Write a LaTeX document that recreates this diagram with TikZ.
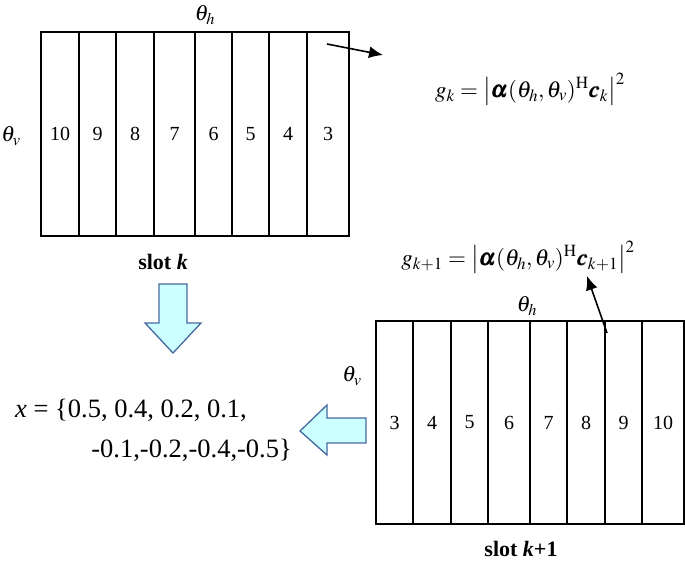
\RequirePackage{fix-cm}
\documentclass[tikz,border=0pt]{standalone}
\usepackage{mathptmx}
\usepackage{fontspec}
\setmainfont{Liberation Serif}
\usepackage{bm}
\usetikzlibrary{arrows.meta}
\definecolor{arrfill}{RGB}{204,255,255}
\definecolor{arrdraw}{RGB}{70,105,160}
\begin{document}
\begin{tikzpicture}[x=1pt,y=-1pt,
  cell/.style={draw,line width=1.3pt,inner sep=0pt,font=\fontsize{20}{24}\selectfont},
  lbl/.style={inner sep=0pt,font=\fontsize{22}{26}\selectfont},
  frm/.style={inner sep=0pt,font=\fontsize{23}{27}\selectfont},
  xtxt/.style={inner sep=0pt,font=\fontsize{26.5}{30}\selectfont},
  ptr/.style={line width=1.6pt,-{Latex[length=14pt,width=12pt]}},
  blockarrow/.style={fill=arrfill,draw=arrdraw,line width=1.3pt,line join=miter}]
\useasboundingbox (0,0) rectangle (685,562);
% slot k box
\foreach \l/\r/\t [count=\i] in {41/79/10,79/116/9,116/154/8,154/195/7,195/232/6,232/269/5,269/307/4,307/349/3}{
  \node[cell,minimum width={(\r-\l)*1pt},minimum height=204pt] (a\i) at ({(\l+\r)/2},134) {\t};
}
% slot k+1 box
\foreach \l/\r/\t [count=\i] in {376/413/3,413/451/4,451/488/5,488/530/6,530/567/7,567/605/8,605/642/9,642/684/10}{
  \node[cell,minimum width={(\r-\l)*1pt},minimum height=203pt] (b\i) at ({(\l+\r)/2},422.5) {\t};
}
\node[lbl] (th1) at (205,15) {$\theta_h$};
\node[lbl] (tv1) at (11,136) {$\theta_v$};
\node[lbl] (th2) at (527,306) {$\theta_h$};
\node[lbl] (tv2) at (352,376) {$\theta_v$};
\node[lbl] (s1) at (163,262) {\textbf{slot \textit{k}}};
\node[lbl] (s2) at (521,549) {\textbf{slot \textit{k}+1}};
\node[frm] (g1) at (530,89) {$g_k=\left|\bm{\alpha}(\theta_h,\theta_v)^{\mathrm{H}}\bm{c}_k\right|^2$};
\node[frm] (g2) at (518,257) {$g_{k+1}=\left|\bm{\alpha}(\theta_h,\theta_v)^{\mathrm{H}}\bm{c}_{k+1}\right|^2$};
\node[xtxt,anchor=west] (x1) at (15,410) {\textit{x} = \{0.5, 0.4, 0.2, 0.1,};
\node[xtxt,anchor=east] (x2) at (292,450) {-0.1,-0.2,-0.4,-0.5\}};
% pointer arrows
\coordinate (p1s) at (327,44);
\coordinate (p1e) at (383,55);
\coordinate (p2s) at (607,333);
\coordinate (p2e) at (587,276);
\draw[ptr] (p1s) -- (p1e);
\draw[ptr] (p2s) -- (p2e);
% block arrows
\draw[blockarrow] (159,284) -- (187,284) -- (187,323) -- (201,323) -- (173,353) -- (145,323) -- (159,323) -- cycle;
\draw[blockarrow] (366,418) -- (327,418) -- (327,405) -- (300,431) -- (327,455) -- (327,443) -- (366,443) -- cycle;
\end{tikzpicture}
\end{document}
